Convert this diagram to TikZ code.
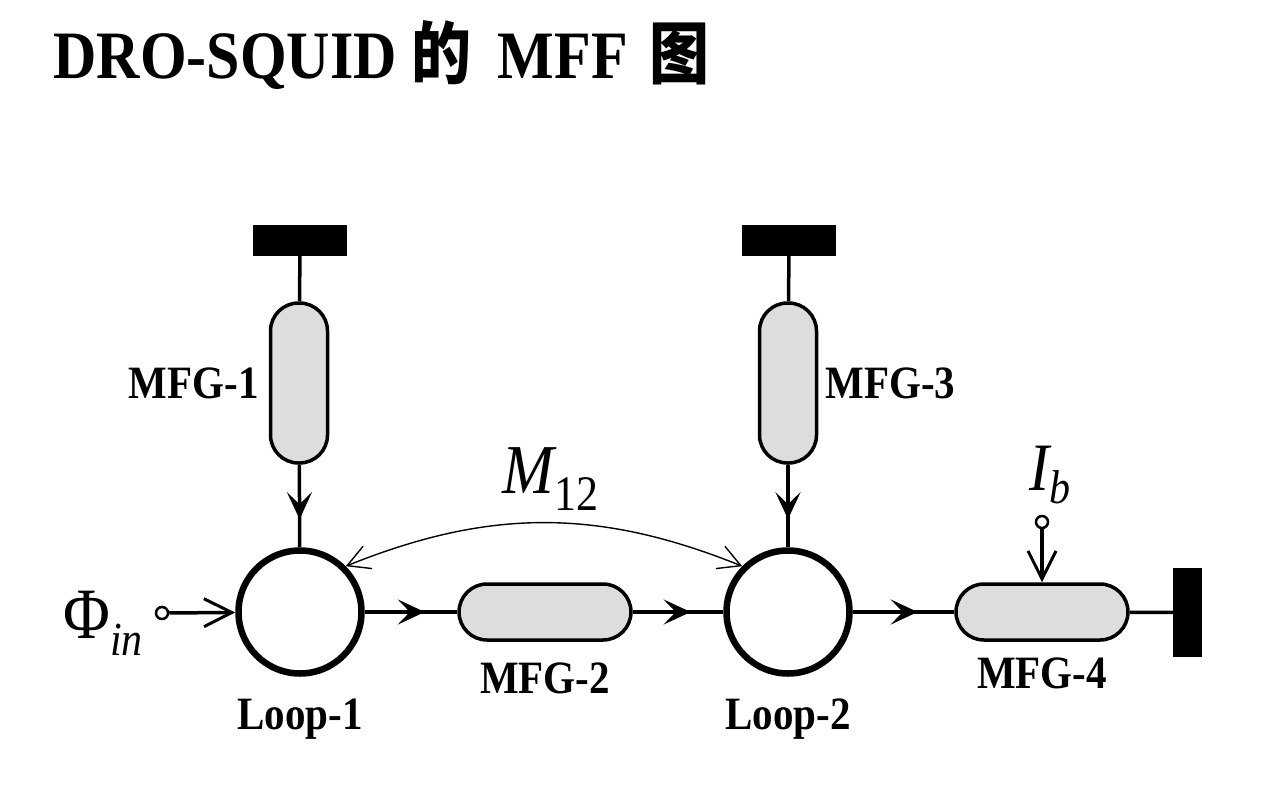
\documentclass[tikz,border=0pt]{standalone}
\usepackage{fontspec}
\setmainfont{Liberation Serif}
\newfontfamily\cjkfont{Noto Sans CJK SC}
\usetikzlibrary{arrows.meta, positioning, decorations.markings}
\definecolor{capsulegray}{RGB}{221, 221, 221}
\newcommand{\tallbox}[1]{\scalebox{1}[1.13]{#1}}

\begin{document}
\begin{tikzpicture}[x=1pt, y=-1pt,
        % Shared font size for the block labels
        font=\fontsize{41}{41}\selectfont\bfseries,
        % Reusable styles for the parts of the flux diagram
        capsule/.style={draw, fill=capsulegray, line width=3.5pt, rounded corners=28pt, inner sep=0pt},
        hcapsule/.style={capsule, minimum width=172pt, minimum height=56pt},
        vcapsule/.style={capsule, minimum width=57pt, minimum height=160pt},
        loopring/.style={circle, draw, line width=6.5pt, minimum size=123pt, inner sep=0pt},
        ground/.style={fill=black, inner sep=0pt},
        terminal/.style={circle, draw, line width=2.5pt, fill=white, minimum size=12pt, inner sep=0pt},
        wire/.style={line width=3.5pt},
        flow/.style={wire, postaction={decorate}, decoration={markings,
            mark=at position #1 with {\arrow{Stealth[length=27pt, width=25pt, inset=12pt]}}}},
        feed/.style={wire, -{Straight Barb[length=28pt, width=28pt, line width=3pt]}},
        label/.style={inner sep=0pt}
    ]

    \useasboundingbox (0, 0) rectangle (1280, 785);

    % Title
    \node[anchor=base west, font=\fontsize{60}{60}\selectfont\bfseries] (title) at (50, 78)
        {\tallbox{DRO-SQUID {\cjkfont 的}\hspace{26pt}MFF\hspace{22pt}{\cjkfont 图}}};

    % Loops and flux generators
    \node[loopring] (loop1) at (300, 612) {};
    \node[loopring] (loop2) at (788, 612) {};
    \node[vcapsule] (mfg1) at (299, 383) {};
    \node[vcapsule] (mfg3) at (788, 383) {};
    \node[hcapsule] (mfg2) at (545, 612) {};
    \node[hcapsule] (mfg4) at (1042, 612) {};

    % Grounds
    \node[ground, minimum width=94pt, minimum height=31pt] (gnd1) at (300, 240.5) {};
    \node[ground, minimum width=94pt, minimum height=31pt] (gnd3) at (789, 240.5) {};
    \node[ground, minimum width=29pt, minimum height=89pt] (gnd4) at (1187.5, 612.5) {};

    % Inputs
    \node[terminal] (phiin) at (162, 613) {};
    \node[terminal] (ibias) at (1042, 522) {};

    % Connectors
    \draw[wire] (gnd1) -- (mfg1);
    \draw[wire] (gnd3) -- (mfg3);
    \draw[flow=0.66] (mfg1) -- (loop1);
    \draw[flow=0.66] (mfg3) -- (loop2);
    \draw[flow=0.65] (loop1) -- (mfg2);
    \draw[flow=0.64] (mfg2) -- (loop2);
    \draw[flow=0.64] (loop2) -- (mfg4);
    \draw[wire] (mfg4) -- (gnd4);
    \draw[feed] (phiin) -- (loop1);
    \draw[feed] (ibias) -- (mfg4);

    % Mutual inductance
    \draw[line width=1.4pt, {Straight Barb[length=22pt, width=24pt, line width=1.4pt]}-{Straight Barb[length=22pt, width=24pt, line width=1.4pt]}]
        (loop1.45) to[bend left=22] (loop2.135);

    % Labels
    \node[label, left=10pt of mfg1] (mfg1label) {\tallbox{MFG-1}};
    \node[label, right=7pt of mfg3] (mfg3label) {\tallbox{MFG-3}};
    \node[label, below=21pt of mfg2] (mfg2label) {\tallbox{MFG-2}};
    \node[label, below=16pt of mfg4] (mfg4label) {\tallbox{MFG-4}};
    \node[label, below=22pt of loop1] (loop1label) {\tallbox{Loop-1}};
    \node[label, below=22pt of loop2] (loop2label) {\tallbox{Loop-2}};

    \node[anchor=base west, font=\fontsize{64}{64}\selectfont] (philabel) at (60, 638)
        {\tallbox{Φ}\raisebox{-17pt}{\fontsize{42}{42}\selectfont\itshape\tallbox{in}}};
    \node[anchor=base west, font=\fontsize{62}{62}\selectfont] (mlabel) at (499, 493)
        {\tallbox{\itshape M}\raisebox{-17pt}{\fontsize{44}{44}\selectfont\tallbox{12}}};
    \node[anchor=base west, font=\fontsize{60}{60}\selectfont] (iblabel) at (1026, 490)
        {\tallbox{\itshape I}\raisebox{-13pt}{\fontsize{42}{42}\selectfont\itshape\tallbox{b}}};

\end{tikzpicture}
\end{document}
